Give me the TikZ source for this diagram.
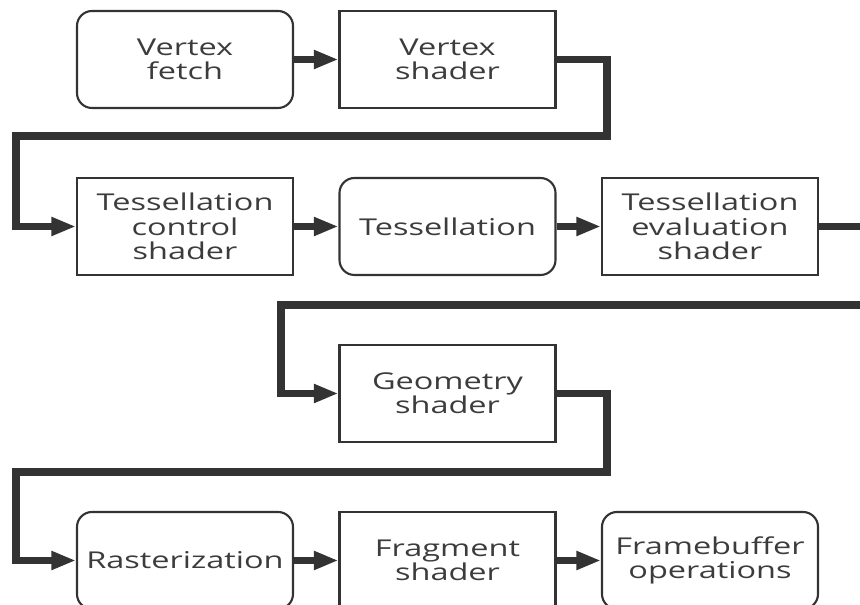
\documentclass[tikz,border=0pt]{standalone}
\usepackage{fontspec}
\setmainfont{Open Sans}[FakeStretch=1.4]
\usepackage{tikz}
\usetikzlibrary{arrows.meta,positioning}
\definecolor{linegray}{HTML}{333333}
\definecolor{textgray}{HTML}{3C3C3C}
\tikzset{>={Triangle[length=14pt,width=10pt]}}

\begin{document}
\begin{tikzpicture}
      \tikzstyle{stage}=[draw=linegray,line width=1.2pt,minimum width=4.32cm,minimum height=1.94cm,inner sep=0pt,align=center,text=textgray,font=\fontsize{13.2}{13.8}\selectfont]
      \tikzstyle{shaderstage}=[stage]
      \tikzstyle{fixedstage}=[stage,rounded corners=0.3cm]
      \tikzstyle{flow}=[draw=linegray,line width=4pt,->]
      \useasboundingbox (0,0) rectangle (17.2,12.1);
      %%% vertex stages
      \node (fetch) at (3.7,10.91) [fixedstage] {Vertex\\fetch};
      \node (vshader) at (8.95,10.91) [shaderstage] {Vertex\\shader};
      \draw[flow] (fetch.east) -- (vshader.west);
      %%%% tessellation stages
      \node (tcs) at (3.7,7.57) [shaderstage] {Tessellation\\control\\shader};
      \node (tess) at (8.95,7.57) [fixedstage] {Tessellation};
      \node (tes) at (14.2,7.57) [shaderstage] {Tessellation\\evaluation\\shader};
      \coordinate (turn1) at (12.14,9.38);
      \coordinate (back1) at (0.32,7.57);
      \draw[flow] (vshader.east) -| (turn1) -| (back1) -- (tcs.west);
      \draw[flow] (tcs.east) -- (tess.west);
      \draw[flow] (tess.east) -- (tes.west);
      %%%% geometry stage
      \node (geom) at (8.95,4.23) [shaderstage] {Geometry\\shader};
      \coordinate (turn2) at (17.4,6.0);
      \coordinate (back2) at (5.62,4.23);
      \draw[flow] (tes.east) -| (turn2) -| (back2) -- (geom.west);
      %%%% fragment stages
      \node (raster) at (3.7,0.89) [fixedstage] {Rasterization};
      \node (frag) at (8.95,0.89) [shaderstage] {Fragment\\shader};
      \node (fbops) at (14.2,0.89) [fixedstage] {Framebuffer\\operations};
      \coordinate (turn3) at (12.14,2.66);
      \coordinate (back3) at (0.32,0.89);
      \draw[flow] (geom.east) -| (turn3) -| (back3) -- (raster.west);
      \draw[flow] (raster.east) -- (frag.west);
      \draw[flow] (frag.east) -- (fbops.west);
\end{tikzpicture}
\end{document}
